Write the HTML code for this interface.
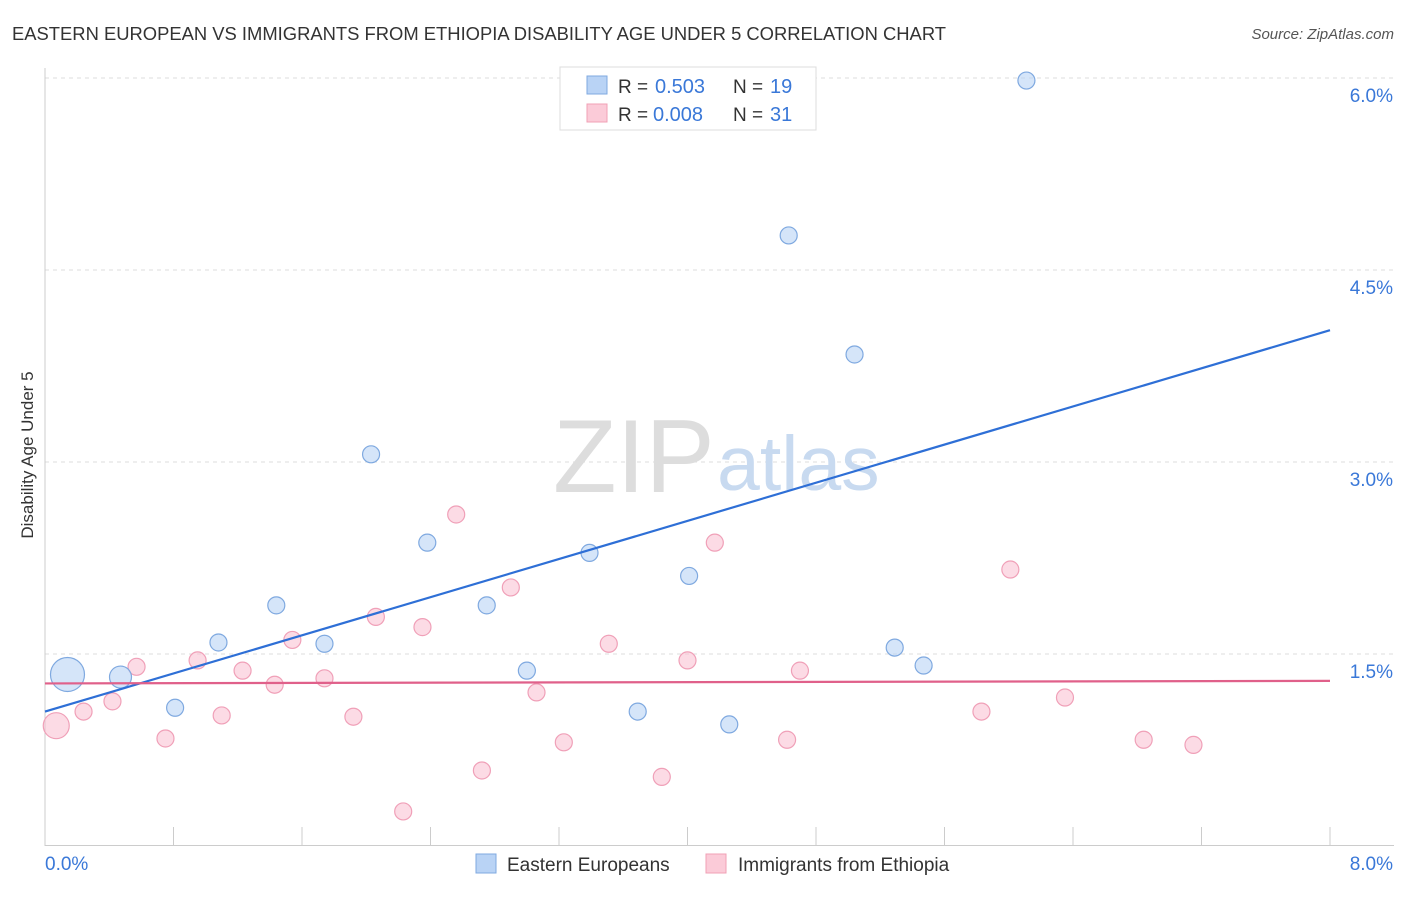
<!DOCTYPE html>
<html><head><meta charset="utf-8"><style>
body{margin:0;background:#fff;font-family:"Liberation Sans",sans-serif;}
svg text{font-family:"Liberation Sans",sans-serif;}
</style></head><body>
<svg width="1406" height="892">
<text x="12" y="40" font-size="18.4" fill="#333">EASTERN EUROPEAN VS IMMIGRANTS FROM ETHIOPIA DISABILITY AGE UNDER 5 CORRELATION CHART</text>
<text x="1394" y="39" font-size="15" fill="#555" font-style="italic" text-anchor="end">Source: ZipAtlas.com</text>
<text x="33" y="455" font-size="17" fill="#333" text-anchor="middle" transform="rotate(-90 33 455)">Disability Age Under 5</text>
<g id="grid"></g>
<text x="553" y="492" font-size="104" fill="#ddd" font-family="Liberation Serif">ZIP</text>
<text x="717" y="490" font-size="77" fill="#c8daf0">atlas</text>
<g id="marks"></g>
<g>
<rect x="560" y="67" width="256" height="63" fill="#fff" stroke="#ddd"/>
<rect x="587" y="76" width="20" height="18" fill="#b9d3f5" stroke="#7fa9e0"/>
<text x="618" y="93" font-size="19" fill="#333">R =</text>
<text x="655" y="93" font-size="20" fill="#3a78d8">0.503</text>
<text x="733" y="93" font-size="19" fill="#333">N =</text>
<text x="770" y="93" font-size="20" fill="#3a78d8">19</text>
<rect x="587" y="104" width="20" height="18" fill="#fbcbd8" stroke="#f0a0b6"/>
<text x="618" y="121" font-size="19" fill="#333">R =</text>
<text x="653" y="121" font-size="20" fill="#3a78d8">0.008</text>
<text x="733" y="121" font-size="19" fill="#333">N =</text>
<text x="770" y="121" font-size="20" fill="#3a78d8">31</text>
</g>
<g>
<rect x="476" y="854" width="20" height="19" fill="#b9d3f5" stroke="#7fa9e0"/>
<text x="507" y="871" font-size="19" fill="#333">Eastern Europeans</text>
<rect x="706" y="854" width="20" height="19" fill="#fbcbd8" stroke="#f0a0b6"/>
<text x="738" y="871" font-size="19" fill="#333">Immigrants from Ethiopia</text>
</g>
</svg>
<script>
const yTicks=[1.5,3.0,4.5,6.0];
const yTickLabels=["1.5%","3.0%","4.5%","6.0%"];
const xTicks=[0,0.8,1.6,2.4,3.2,4.0,4.8,5.6,6.4,7.2,8.0];
const blueX=[0.14,0.47,0.81,1.08,1.44,1.74,2.03,2.38,2.75,3.0,3.39,3.69,4.01,4.26,4.63,5.04,5.29,5.47,6.11];
const blueY=[1.34,1.32,1.08,1.59,1.88,1.58,3.06,2.37,1.88,1.37,2.29,1.05,2.11,0.95,4.77,3.84,1.55,1.41,5.98];
const pinkX=[0.07,0.24,0.42,0.57,0.75,0.95,1.10,1.23,1.43,1.54,1.74,1.92,2.06,2.23,2.35,2.56,2.72,2.90,3.06,3.23,3.51,3.84,4.00,4.17,4.62,4.70,5.83,6.01,6.35,6.84,7.15];
const pinkY=[0.94,1.05,1.13,1.40,0.84,1.45,1.02,1.37,1.26,1.61,1.31,1.01,1.79,0.27,1.71,2.59,0.59,2.02,1.20,0.81,1.58,0.54,1.45,2.37,0.83,1.37,1.05,2.16,1.16,0.83,0.79];
const blueLine=[1.05,4.03];
const pinkLine=[1.27,1.29];
const NS="http://www.w3.org/2000/svg";
const xs=v=>45+v*(1285/8), ys=v=>846-v*128;
function mk(t,a,p){const e=document.createElementNS(NS,t);for(const k in a)e.setAttribute(k,a[k]);p.appendChild(e);return e;}
const g=document.getElementById('grid'), m=document.getElementById('marks');
yTicks.forEach((t,i)=>{
 const l=mk('line',{x1:45,x2:1394,y1:ys(t),y2:ys(t),stroke:'#ddd','stroke-dasharray':'4,4'},g);
 
 
 const tx=mk('text',{x:1393,y:ys(t)+24,'font-size':19,fill:'#3a78d8','text-anchor':'end'},g);tx.textContent=yTickLabels[i];
 
 
});
mk('line',{x1:45,x2:45,y1:68,y2:846,stroke:'#ccc'},g);
mk('line',{x1:45,x2:1394,y1:845.5,y2:845.5,stroke:'#ccc'},g);
xTicks.forEach(t=>{const l=mk('line',{x1:xs(t),x2:xs(t),y1:827,y2:846,stroke:'#ccc'},g);
 
 });
const x0=mk('text',{x:45,y:870,'font-size':19,fill:'#3a78d8'},g);x0.textContent='0.0%';

const x1=mk('text',{x:1393,y:870,'font-size':19,fill:'#3a78d8','text-anchor':'end'},g);x1.textContent='8.0%';

pinkX.forEach((x,i)=>{const c=mk('circle',{cx:xs(x),cy:ys(pinkY[i]),r:i==0?13:8.5,fill:'rgba(250,190,208,0.55)',stroke:'#f0a0b8','stroke-width':1.2},m);
 
 });
blueX.forEach((x,i)=>{const c=mk('circle',{cx:xs(x),cy:ys(blueY[i]),r:i==0?17:(i==1?11:8.5),fill:'rgba(185,211,245,0.6)',stroke:'#7fa9e0','stroke-width':1.2},m);
 
 });
const bl=mk('line',{x1:xs(0),y1:ys(blueLine[0]),x2:xs(8),y2:ys(blueLine[1]),stroke:'#2e6fd6','stroke-width':2.2},m);


const pl=mk('line',{x1:xs(0),y1:ys(pinkLine[0]),x2:xs(8),y2:ys(pinkLine[1]),stroke:'#e0608a','stroke-width':2.2},m);


</script>
</body></html>
